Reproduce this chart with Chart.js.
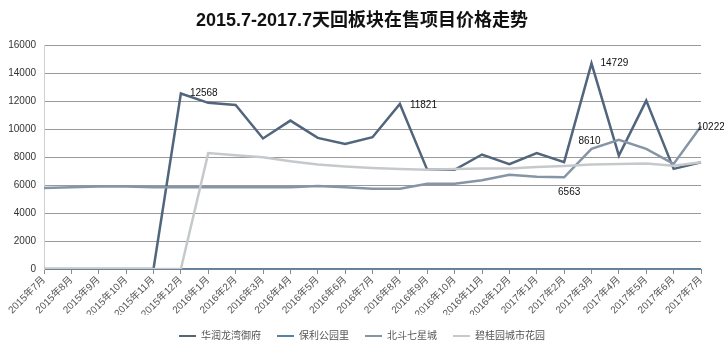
<!DOCTYPE html>
<html><head><meta charset="utf-8">
<script src="https://cdn.jsdelivr.net/npm/chart.js@4/dist/chart.umd.min.js"></script>
<style>html,body{margin:0;padding:0;background:#fff}#wrap{position:relative;width:724px;height:354px;overflow:hidden}</style>
</head><body><div id="wrap"><canvas id="c" width="724" height="354"></canvas></div>
<script>
const months = ['2015年7月','2015年8月','2015年9月','2015年10月','2015年11月','2015年12月',
  '2016年1月','2016年2月','2016年3月','2016年4月','2016年5月','2016年6月','2016年7月','2016年8月',
  '2016年9月','2016年10月','2016年11月','2016年12月','2017年1月','2017年2月','2017年3月','2017年4月',
  '2017年5月','2017年6月','2017年7月'];
const seriesNames = ['华润龙湾御府','保利公园里','北斗七星城','碧桂园城市花园'];
const huarun = [0,0,0,0,0,12568,11900,11750,9350,10630,9390,8960,9440,11821,7100,7100,8200,7500,8300,7650,14729,8120,12060,7170,7650];
const baoli = [0,0,0,0,0,0,0,0,0,0,0,0,0,0,0,0,0,0,0,0,0,0,0,0,0];
const beidou = [5800,5850,5900,5900,5850,5850,5850,5850,5850,5850,5950,5850,5750,5750,6100,6100,6350,6750,6600,6563,8610,9250,8600,7530,10222];
const biguiyuan = [0,0,0,0,0,0,8300,8150,8000,7720,7480,7340,7240,7170,7100,7170,7200,7200,7300,7370,7480,7520,7560,7400,7650];
const yTicks = [0,2000,4000,6000,8000,10000,12000,14000,16000];
// annotated points: [series index, category index]
const annotated = [[0,5],[0,13],[0,20],[2,19],[2,20],[2,24]];

const FONT = '"Liberation Sans", "Noto Sans CJK SC", sans-serif';
Chart.defaults.font.family = FONT;

const labelPlugin = {
  id: 'pointLabels',
  afterDatasetsDraw(chart, args, opts) {
    const ctx = chart.ctx;
    ctx.save();
    ctx.font = '10px ' + FONT;
    ctx.fillStyle = '#111';
    annotated.forEach(([ds, i], k) => {
      const el = chart.getDatasetMeta(ds).data[i];
      const v = chart.data.datasets[ds].data[i];
      const p = opts.place[k];
      ctx.textAlign = p.align;
      ctx.textBaseline = p.base;
      ctx.fillText(String(v), el.x + p.dx, el.y + p.dy);
    });
    ctx.restore();
  }
};

const colors = ['#51657c','#5f7f9e','#8595a6','#c6c9cc'];
const widths = [2.5,2,2.5,2.5];
const dataArr = [huarun, baoli, beidou, biguiyuan];

new Chart(document.getElementById('c'), {
  type: 'line',
  data: {
    labels: months,
    datasets: seriesNames.map((n, k) => ({
      label: n,
      data: dataArr[k],
      borderColor: colors[k],
      backgroundColor: colors[k],
      borderWidth: widths[k],
      pointRadius: 0,
      tension: 0,
      order: 3 - k
    }))
  },
  options: {
    responsive: false,
    animation: false,
    devicePixelRatio: 1,
    layout: { padding: { left: 0, right: 0, top: 0, bottom: 3 } },
    plugins: {
      title: { display: true, text: '2015.7-2017.7天回板块在售项目价格走势', color: '#111',
        font: { size: 18, weight: 'bold', family: FONT }, padding: { top: 10, bottom: 14 } },
      legend: {
        position: 'bottom',
        labels: {
          boxWidth: 17, boxHeight: 2, padding: 16, color: '#555',
          font: { size: 10, family: FONT },
          sort: (a, b) => a.datasetIndex - b.datasetIndex,
          generateLabels(chart) {
            const items = Chart.defaults.plugins.legend.labels.generateLabels(chart);
            items.forEach(it => { it.fillStyle = it.strokeStyle; it.lineWidth = 0; });
            return items;
          }
        }
      },
      tooltip: { enabled: false },
      pointLabels: { place: [
        { dx: 9, dy: 0, align: 'left', base: 'middle' },
        { dx: 10, dy: 1, align: 'left', base: 'middle' },
        { dx: 9, dy: 0, align: 'left', base: 'middle' },
        { dx: 5, dy: 10, align: 'center', base: 'top' },
        { dx: -2, dy: -3, align: 'center', base: 'bottom' },
        { dx: -4, dy: 1, align: 'left', base: 'middle' }
      ] }
    },
    scales: {
      x: {
        offset: false,
        grid: { display: true, drawOnChartArea: false, drawTicks: true, tickLength: 5, color: '#8c8c8c' },
        border: { display: true, color: '#6f8499', width: 1 },
        ticks: { autoSkip: false, maxRotation: 45, minRotation: 45, color: '#555', font: { size: 10 }, padding: 0 },
        afterFit(s) { s.height = 46; }
      },
      y: {
        min: 0, max: 16000,
        afterBuildTicks(s) { s.ticks = yTicks.map(v => ({ value: v })); },
        grid: { color: '#9a9a9a', drawTicks: false },
        border: { display: true, color: '#d0d0d0' },
        ticks: { color: '#333', font: { size: 10 }, padding: 8, callback: v => String(v) },
        afterFit(s) { s.width = 44; }
      },
      yRight: {
        position: 'right', min: 0, max: 16000,
        grid: { display: false, drawTicks: false },
        border: { display: false },
        ticks: { display: false },
        afterFit(s) { s.width = 23; }
      }
    }
  },
  plugins: [labelPlugin]
});
</script></body></html>
